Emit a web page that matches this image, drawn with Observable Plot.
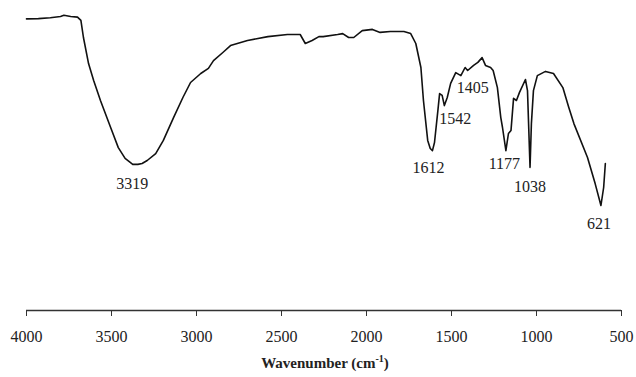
<!DOCTYPE html>
<html>
<head>
<meta charset="utf-8">
<script src="https://cdn.jsdelivr.net/npm/d3@7"></script>
<script src="https://cdn.jsdelivr.net/npm/@observablehq/plot@0.6"></script>
<style>
  html, body { margin: 0; padding: 0; background: #fff; }
  #chart svg { display: block; }
  #chart svg text { font-family: 'Liberation Serif', 'Times New Roman', serif !important; }
</style>
</head>
<body>
<div id="chart"></div>
<script>
// IR spectrum: wavenumber (cm^-1) vs transmittance (arbitrary %)
const wavenumber = [
  4000, 3930, 3860, 3800, 3780, 3740, 3700, 3680, 3665, 3635, 3605, 3565, 3505, 3460, 3420,
  3375, 3345, 3320, 3290, 3240, 3195, 3135, 3080, 3035, 2975, 2930, 2900, 2845, 2800, 2700,
  2580, 2465, 2390, 2370, 2360, 2320, 2280, 2255, 2170, 2140, 2105, 2075, 2025, 1965, 1920,
  1860, 1780, 1740, 1710, 1680, 1665, 1640, 1625, 1612, 1600, 1580, 1570, 1555, 1542, 1525,
  1505, 1475, 1445, 1420, 1405, 1370, 1345, 1320, 1300, 1270, 1255, 1230, 1210, 1200, 1180,
  1165, 1150, 1135, 1118, 1100, 1065, 1053, 1038, 1030, 1018, 995, 947, 900, 845, 810,
  780, 700, 655, 621, 605, 595
];
const transmittance = [
  97.2, 97.3, 97.6, 98.0, 98.4, 98.0, 97.8, 96.7, 91.0, 82.3, 76.7, 70.0, 61.0, 54.3, 50.7,
  48.7, 48.7, 49.0, 50.0, 52.3, 56.7, 64.3, 71.0, 76.0, 79.0, 80.7, 83.3, 86.0, 88.3, 90.0,
  91.3, 92.0, 92.0, 90.0, 89.0, 90.0, 91.3, 91.3, 92.0, 92.3, 91.0, 91.0, 93.3, 93.7, 92.7,
  93.0, 93.0, 92.3, 89.0, 81.0, 70.0, 56.7, 54.0, 53.3, 56.0, 66.7, 72.3, 71.7, 68.3, 71.0,
  75.7, 79.3, 78.3, 81.0, 80.0, 81.7, 82.7, 84.3, 81.7, 81.0, 80.0, 74.3, 64.3, 61.0, 53.3,
  59.0, 60.0, 70.7, 70.0, 72.7, 77.0, 73.3, 47.7, 62.3, 73.3, 78.3, 79.7, 79.0, 74.3, 67.7,
  62.3, 51.0, 42.3, 35.0, 41.0, 49.0
];
const xTicks = [4000, 3500, 3000, 2500, 2000, 1500, 1000, 500];
const peakLabels = ["3319", "1612", "1542", "1405", "1177", "1038", "621"];
const peakWn = [3319, 1612, 1542, 1405, 1177, 1038, 621];
const peakT = [48.7, 53.3, 68.3, 80.0, 53.3, 47.7, 35.0];
const xTitle = "Wavenumber (cm";

// label offsets (presentation only)
const labelDx = [-10, -4, 11, 5, -2, 0, -2];
const labelDy = [19, 17, 13, 17, 13, 19, 18];

const spectrum = wavenumber.map((w, i) => ({w, t: transmittance[i]}));
const peaks = peakLabels.map((l, i) => ({label: l, w: peakWn[i], t: peakT[i], dx: labelDx[i], dy: labelDy[i]}));

const font = "'Liberation Serif', 'Times New Roman', serif";

const plot = Plot.plot({
  width: 636,
  height: 377,
  marginLeft: 26,
  marginRight: 15,
  marginTop: 10,
  marginBottom: 67,
  style: {fontFamily: font, fontSize: "16px", color: "#222", background: "#fff"},
  x: {domain: [4000, 500], label: null},
  y: {domain: [0, 100], axis: null},
  marks: [
    Plot.axisX({ticks: xTicks, tickSize: 6, tickPadding: 14, tickFormat: d => String(d), label: null,
      fontFamily: font, fontSize: 16, stroke: "#333", fill: "#222"}),
    Plot.ruleY([0], {stroke: "#333", strokeWidth: 1.5}),
    Plot.line(spectrum, {x: "w", y: "t", stroke: "#111", strokeWidth: 1.6, curve: "linear"}),
    ...peaks.map(p => Plot.text([p], {
      x: "w", y: "t", text: "label", dx: p.dx, dy: p.dy,
      lineAnchor: "middle", fontSize: 16, fill: "#222", fontFamily: font
    }))
  ]
});

document.getElementById("chart").appendChild(plot);

// Axis title with superscript
const svg = d3.select(plot);
const t = svg.append("text")
  .attr("x", 325)
  .attr("y", 368)
  .attr("text-anchor", "middle")
  .attr("font-family", font)
  .attr("font-weight", "bold")
  .attr("font-size", 15)
  .attr("fill", "#222");
t.append("tspan").text(xTitle);
t.append("tspan").attr("font-size", 10).attr("dy", -6).text("-1");
t.append("tspan").attr("dy", 6).text(")");
</script>
</body>
</html>
